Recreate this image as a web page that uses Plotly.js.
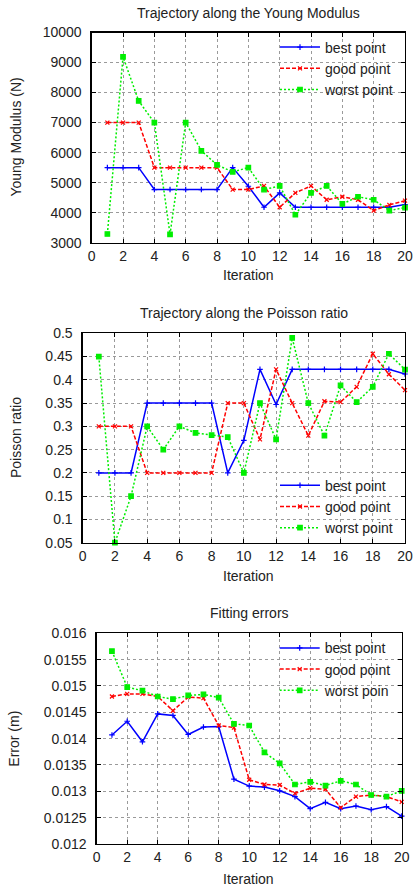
<!DOCTYPE html>
<html>
<head>
<meta charset="utf-8">
<script src="https://cdn.plot.ly/plotly-3.0.1.min.js"></script>
<style>html,body{margin:0;padding:0;background:#fff}#chart{width:414px;height:891px}</style>
</head>
<body>
<div id="chart"></div>
<script>
const iterations = [1,2,3,4,5,6,7,8,9,10,11,12,13,14,15,16,17,18,19,20];
const seriesNames = ["best point", "good point", "worst point"];
const seriesNamesErr = ["best point", "good point", "worst poin"];

const youngBest  = [5500,5500,5500,4770,4770,4770,4770,4770,5500,4880,4180,4660,4180,4180,4180,4180,4180,4180,4180,4270];
const youngGood  = [7000,7000,7000,5500,5500,5500,5500,5500,4770,4770,4890,4180,4660,4890,4430,4530,4430,4070,4260,4400];
const youngWorst = [3290,9190,7720,7000,3280,7000,6060,5590,5360,5500,4770,4890,3930,4660,4890,4290,4530,4430,4070,4170];

const poissonBest  = [0.2,0.2,0.2,0.35,0.35,0.35,0.35,0.35,0.2,0.27,0.4225,0.347,0.4225,0.4225,0.4225,0.4225,0.4225,0.4225,0.4225,0.4125];
const poissonGood  = [0.3,0.3,0.3,0.2,0.2,0.2,0.2,0.2,0.35,0.35,0.272,0.4225,0.35,0.28,0.354,0.352,0.385,0.456,0.412,0.378];
const poissonWorst = [0.45,0.05,0.15,0.3,0.25,0.3,0.286,0.281,0.277,0.2,0.35,0.272,0.49,0.35,0.28,0.388,0.352,0.385,0.456,0.422];

const errBest  = [0.01407,0.01433,0.01394,0.01447,0.01444,0.01408,0.01422,0.01423,0.01323,0.01310,0.01308,0.01301,0.01290,0.01267,0.01279,0.01267,0.01272,0.01265,0.01271,0.01253];
const errGood  = [0.01480,0.01485,0.01485,0.01480,0.01453,0.01479,0.01477,0.01425,0.01421,0.01322,0.01313,0.01312,0.01296,0.01306,0.01304,0.01269,0.01290,0.01293,0.01290,0.01280];
const errWorst = [0.01566,0.01498,0.01491,0.01480,0.01475,0.01482,0.01484,0.01478,0.01428,0.01425,0.01374,0.01353,0.01313,0.01318,0.01311,0.01320,0.01313,0.01293,0.01290,0.01301];

const xTicks = [0,2,4,6,8,10,12,14,16,18,20];
const youngTicks = [3000,4000,5000,6000,7000,8000,9000,10000];
const youngTickText = ["3000","4000","5000","6000","7000","8000","9000","10000"];
const poissonTicks = [0.05,0.1,0.15,0.2,0.25,0.3,0.35,0.4,0.45,0.5];
const poissonTickText = ["0.05","0.1","0.15","0.2","0.25","0.3","0.35","0.4","0.45","0.5"];
const errTicks = [0.012,0.0125,0.013,0.0135,0.014,0.0145,0.015,0.0155,0.016];
const errTickText = ["0.012","0.0125","0.013","0.0135","0.014","0.0145","0.015","0.0155","0.016"];

const titles = ["Trajectory along the Young Modulus", "Trajectory along the Poisson ratio", "Fitting errors"];
const yTitles = ["Young Modulus (N)", "Poisson ratio", "Error (m)"];
const xTitle = "Iteration";

const FONT = "Liberation Sans, Arial, Helvetica, sans-serif";
const W = 414, H = 891;
const styles = [
  {color:"#0000ff", dash:"solid", symbol:"cross-thin-open", size:4},
  {color:"#ff0000", dash:"4px,2px", symbol:"x-thin-open", size:4},
  {color:"#00ee00", dash:"2px,2px", symbol:"square", size:4.5}
];

function mkTraces(ys, names, idx) {
  const sfx = idx === 1 ? "" : String(idx);
  return ys.map((y, i) => ({
    type: "scatter", mode: "lines+markers",
    x: iterations, y: y, name: names[i],
    xaxis: "x" + sfx, yaxis: "y" + sfx,
    legend: "legend" + sfx,
    line: {color: styles[i].color, width: 1.5, dash: styles[i].dash},
    marker: {color: styles[i].color, symbol: styles[i].symbol, size: styles[i].size,
             line: {color: styles[i].color, width: 1.2}},
    cliponaxis: false
  }));
}

const data = [].concat(
  mkTraces([youngBest, youngGood, youngWorst], seriesNames, 1),
  mkTraces([poissonBest, poissonGood, poissonWorst], seriesNames, 2),
  mkTraces([errBest, errGood, errWorst], seriesNamesErr, 3)
);

// plot boxes in pixels: [left, right, top, bottom]
const boxes = [[91.7, 405, 32.5, 242.7], [82.7, 405, 333.3, 542.7], [96.7, 401.7, 633.3, 844]];
function xd(b){ return [b[0]/W, b[1]/W]; }
function yd(b){ return [1 - b[3]/H, 1 - b[2]/H]; }

function xAxis(b, anchor) {
  return {domain: xd(b), anchor: anchor, range: [0, 20], tickvals: xTicks,
    ticks: "inside", ticklen: 4, tickcolor: "#000", mirror: "allticks",
    showline: true, linecolor: "#000", linewidth: 1.3,
    showgrid: true, gridcolor: "#9a9a9a", griddash: "dot", gridwidth: 1,
    zeroline: false, tickfont: {family: FONT, size: 14, color: "#222"}, fixedrange: true};
}
function yAxis(b, anchor, range, vals, text) {
  return {domain: yd(b), anchor: anchor, range: range, tickvals: vals, ticktext: text,
    ticks: "inside", ticklen: 4, tickcolor: "#000", mirror: "allticks",
    showline: true, linecolor: "#000", linewidth: 1.3,
    showgrid: true, gridcolor: "#9a9a9a", griddash: "dot", gridwidth: 1,
    zeroline: false, tickfont: {family: FONT, size: 14, color: "#222"}, fixedrange: true,
    ticklabelstandoff: 6};
}

const annotations = [];
const titleY = [13.5, 312.5, 612.5];
const titleX = [248, 244, 249];
const iterY = [275, 576, 879];
const yTitleX = [16, 16, 14];
boxes.forEach((b, i) => {
  annotations.push({xref:"paper", yref:"paper", x: titleX[i]/W, y: 1 - titleY[i]/H, text: titles[i],
    showarrow:false, xanchor:"center", yanchor:"middle", font:{family:FONT, size:14, color:"#222"}});
  annotations.push({xref:"paper", yref:"paper", x: 248/W, y: 1 - iterY[i]/H, text: xTitle,
    showarrow:false, xanchor:"center", yanchor:"middle", font:{family:FONT, size:14, color:"#222"}});
  annotations.push({xref:"paper", yref:"paper", x: yTitleX[i]/W, y: 1 - ((b[2]+b[3])/2)/H, text: yTitles[i],
    showarrow:false, textangle:-90, xanchor:"center", yanchor:"middle", font:{family:FONT, size:14, color:"#222"}});
});

function legendAt(b, top) {
  return {x: (b[1]-6)/W, xanchor: "right",
    y: top ? 1 - (b[2]-1)/H : 1 - (b[3]+1)/H, yanchor: top ? "top" : "bottom",
    bgcolor: "rgba(255,255,255,0)", borderwidth: 0,
    font: {family: FONT, size: 14, color: "#222"}, itemwidth: 40, tracegroupgap: 0};
}

const layout = {
  width: W, height: H, margin: {l:0, r:0, t:0, b:0},
  paper_bgcolor: "#fff", plot_bgcolor: "#fff", showlegend: true,
  xaxis: xAxis(boxes[0], "y"),
  yaxis: yAxis(boxes[0], "x", [3000, 10000], youngTicks, youngTickText),
  xaxis2: xAxis(boxes[1], "y2"),
  yaxis2: yAxis(boxes[1], "x2", [0.05, 0.5], poissonTicks, poissonTickText),
  xaxis3: xAxis(boxes[2], "y3"),
  yaxis3: yAxis(boxes[2], "x3", [0.012, 0.016], errTicks, errTickText),
  legend: legendAt(boxes[0], true),
  legend2: legendAt(boxes[1], false),
  legend3: legendAt(boxes[2], true),
  annotations: annotations
};

Plotly.newPlot("chart", data, layout, {displayModeBar: false, staticPlot: true});
</script>
</body>
</html>
